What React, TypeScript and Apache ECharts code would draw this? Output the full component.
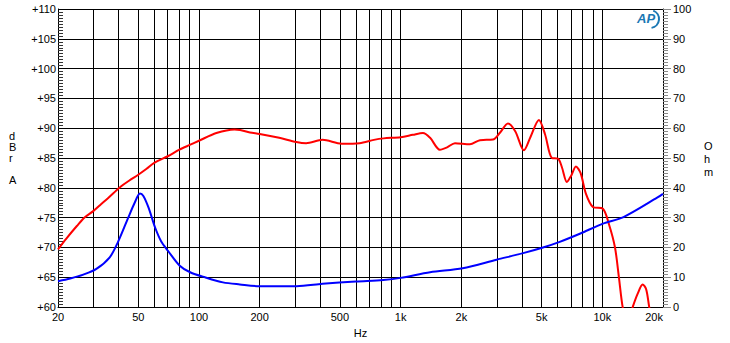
import React, { useEffect, useRef } from "react";
import * as echarts from "echarts";

const gridTicks = [20, 30, 40, 50, 60, 70, 80, 90, 100, 200, 300, 400, 500, 600, 700, 800, 900, 1000, 2000, 3000, 4000, 5000, 6000, 7000, 8000, 9000, 10000, 20000];
const freqLabels = [20, 50, 100, 200, 500, 1000, 2000, 5000, 10000, 20000];

const splFreq = [20, 22, 24.8, 27, 29.9, 32.3, 35.5, 40.6, 45, 50, 55, 60, 70, 80, 90, 100, 122, 150, 160, 179, 200, 250, 304, 340, 410, 510, 626, 737, 823, 1000, 1150, 1290, 1400, 1566, 1700, 1860, 2206, 2473, 2869, 3100, 3405, 3700, 4087, 4400, 4850, 5200, 5625, 6026, 6300, 6677, 7000, 7400, 7800, 8300, 8980, 10070, 10790, 11560, 12090, 12620, 13300, 14150, 15000, 15850, 16500, 17090, 18000, 20000];
const splDb = [69.7, 71.5, 73.6, 75, 76.1, 77.1, 78.3, 80.1, 81.2, 82.2, 83.2, 84.2, 85.3, 86.4, 87.2, 87.9, 89.2, 89.8, 89.7, 89.3, 89.05, 88.4, 87.7, 87.5, 88.05, 87.4, 87.5, 88.05, 88.3, 88.5, 88.9, 89.2, 88.4, 86.4, 86.8, 87.5, 87.3, 88, 88.1, 89.2, 90.8, 89.5, 86.3, 88.5, 91.4, 89, 85, 84.9, 83.5, 81, 82, 83.6, 82.5, 79, 76.8, 76.5, 73.9, 70, 65, 60, 57, 60, 62.3, 63.8, 63, 60, 56, 50];

const impFreq = [20, 23, 26.7, 31, 36.1, 39.6, 44.6, 48, 51, 53, 56.3, 60.6, 65, 70.2, 80.3, 90.4, 107, 131.5, 159.5, 200, 305, 410, 600, 820, 1000, 1400, 2030, 2990, 4050, 5080, 6150, 7790, 10080, 12740, 18700, 20000];
const impOhm = [8.7, 9.6, 10.9, 12.8, 16.7, 21.7, 30, 35, 38.1, 37.3, 33.3, 26.7, 22, 18.9, 13.9, 11.7, 10, 8.3, 7.6, 7.0, 7.0, 7.8, 8.6, 9.1, 9.8, 11.7, 13, 15.9, 18.1, 20, 21.9, 24.7, 28, 30.2, 36.7, 38];

const FONT = "Liberation Sans, Arial, sans-serif";

export default function App() {
  const ref = useRef<HTMLDivElement>(null);
  useEffect(() => {
    if (!ref.current) return;
    const chart = echarts.init(ref.current, null, { renderer: "svg" });
    const fmtHz = (v: number) => (v >= 1000 ? v / 1000 + "k" : String(v));
    chart.setOption({
      animation: false,
      backgroundColor: "#ffffff",
      textStyle: { fontFamily: FONT },
      grid: { left: 58, right: 67, top: 9, bottom: 33, containLabel: false },
      xAxis: {
        type: "log",
        logBase: 10,
        min: 20,
        max: 20000,
        name: "Hz",
        nameLocation: "middle",
        nameGap: 19,
        nameTextStyle: { color: "#000", fontSize: 11, fontFamily: FONT },
        axisLine: { show: true, lineStyle: { color: "#000", width: 1 } },
        axisTick: { show: false, customValues: gridTicks },
        axisLabel: { customValues: freqLabels, formatter: fmtHz, color: "#000", fontSize: 11, margin: 4, fontFamily: FONT, alignMaxLabel: "right" },
        splitLine: { show: true, lineStyle: { color: "#000", width: 1 } },
        minorTick: { show: false },
        minorSplitLine: { show: false },
      },
      yAxis: [
        {
          type: "value",
          min: 60,
          max: 110,
          interval: 5,
          position: "left",
          axisLine: { show: true, lineStyle: { color: "#000", width: 1 } },
          axisTick: { show: false, inside: true },
          minorTick: { show: true, splitNumber: 10, length: 5, lineStyle: { color: "#333", width: 1 } },
          axisLabel: { formatter: (v: number) => "+" + v, color: "#000", fontSize: 11, margin: 2, fontFamily: FONT },
          splitLine: { show: true, lineStyle: { color: "#000", width: 1 } },
        },
        {
          type: "value",
          min: 0,
          max: 100,
          interval: 10,
          position: "right",
          axisLine: { show: true, lineStyle: { color: "#000", width: 1 } },
          axisTick: { show: true, inside: false, length: 8, lineStyle: { color: "#888", width: 1 } },
          minorTick: { show: true, splitNumber: 10, length: 5, lineStyle: { color: "#888", width: 1 } },
          axisLabel: { color: "#000", fontSize: 11, margin: 10, fontFamily: FONT },
          splitLine: { show: false },
        },
      ],
      series: [
        {
          type: "line",
          name: "SPL",
          yAxisIndex: 0,
          data: splFreq.map((f, i) => [f, splDb[i]]),
          showSymbol: false,
          smooth: 0.3,
          clip: true,
          lineStyle: { color: "#ff0000", width: 2 },
          itemStyle: { color: "#ff0000" },
        },
        {
          type: "line",
          name: "Impedance",
          yAxisIndex: 1,
          data: impFreq.map((f, i) => [f, impOhm[i]]),
          showSymbol: false,
          smooth: 0.3,
          clip: true,
          lineStyle: { color: "#0000ff", width: 2 },
          itemStyle: { color: "#0000ff" },
        },
      ],
      graphic: [
        {
          type: "text",
          left: 9,
          top: 130,
          style: { text: "d\nB\nr\n\nA", fill: "#000", font: "11px " + FONT, lineHeight: 11, align: "center" },
        },
        {
          type: "text",
          left: 704,
          top: 139,
          style: { text: "O\nh\nm", fill: "#000", font: "11px " + FONT, lineHeight: 13, align: "center" },
        },
        {
          type: "arc",
          shape: { cx: 650, cy: 19, r: 9, startAngle: -1.2, endAngle: 1.4 },
          style: { stroke: "#1a78b4", lineWidth: 2, fill: "none" },
        },
        {
          type: "text",
          x: 637,
          y: 12,
          style: { text: "AP", fill: "#1a78b4", font: "italic bold 13px " + FONT },
        },
      ],
    });
    return () => chart.dispose();
  }, []);
  return <div ref={ref} style={{ position: "fixed", left: 0, top: 0, width: 730, height: 343 }} />;
}
